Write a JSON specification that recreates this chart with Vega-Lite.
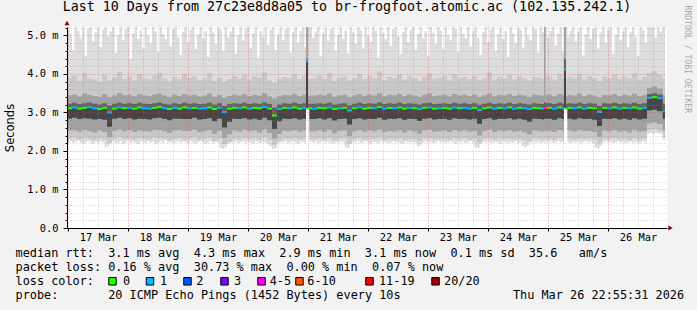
{
  "$schema": "https://vega.github.io/schema/vega-lite/v6.json",
  "width": 600,
  "height": 201,
  "autosize": "none",
  "padding": {"left": 67, "top": 27, "right": 30, "bottom": 82},
  "background": "#f2f2f2",
  "config": {"view": {"stroke": null, "fill": "#ffffff"}},
  "title": {"text": "Last 10 Days from 27c23e8d8a05 to br-frogfoot.atomic.ac (102.135.242.1)", "font": "DejaVu Sans Mono", "fontSize": 13.3, "fontWeight": "normal", "color": "#000000", "anchor": "middle", "frame": "group", "dx": -20, "dy": 23, "offset": 4, "baseline": "alphabetic"},
  "datasets": {
    "main": [
      {"t":0,"u":2,"a":2.32,"b":2.53,"c":2.84,"m":3.11,"d":3.23,"e":3.45,"f":3.90,"l":"0"},
      {"t":2,"u":4,"a":2.35,"b":2.54,"c":2.86,"m":3.13,"d":3.25,"e":3.47,"f":3.95,"l":"1"},
      {"t":4,"u":6,"a":2.30,"b":2.50,"c":2.83,"m":3.10,"d":3.22,"e":3.42,"f":3.82,"l":"0"},
      {"t":6,"u":8,"a":2.34,"b":2.55,"c":2.85,"m":3.12,"d":3.24,"e":3.49,"f":4.02,"l":"0"},
      {"t":8,"u":10,"a":2.31,"b":2.51,"c":2.84,"m":3.14,"d":3.26,"e":3.46,"f":3.88,"l":"1"},
      {"t":10,"u":12,"a":2.28,"b":2.48,"c":2.82,"m":3.11,"d":3.23,"e":3.43,"f":3.85,"l":"1"},
      {"t":12,"u":14,"a":2.33,"b":2.53,"c":2.83,"m":3.09,"d":3.21,"e":3.41,"f":3.80,"l":"0"},
      {"t":14,"u":16,"a":2.30,"b":2.49,"c":2.81,"m":3.12,"d":3.24,"e":3.48,"f":3.98,"l":"0"},
      {"t":16,"u":18,"a":2.20,"b":2.36,"c":2.63,"m":3.00,"d":3.18,"e":3.40,"f":3.84,"l":"1"},
      {"t":18,"u":20,"a":2.32,"b":2.52,"c":2.84,"m":3.10,"d":3.23,"e":3.44,"f":3.91,"l":"0"},
      {"t":20,"u":22,"a":2.36,"b":2.56,"c":2.86,"m":3.13,"d":3.25,"e":3.50,"f":4.05,"l":"1"},
      {"t":22,"u":24,"a":2.31,"b":2.51,"c":2.83,"m":3.11,"d":3.23,"e":3.45,"f":3.87,"l":"0"},
      {"t":24,"u":26,"a":2.33,"b":2.54,"c":2.85,"m":3.12,"d":3.24,"e":3.46,"f":3.93,"l":"1"},
      {"t":26,"u":28,"a":2.29,"b":2.49,"c":2.82,"m":3.10,"d":3.22,"e":3.42,"f":3.83,"l":"0"},
      {"t":28,"u":30,"a":2.34,"b":2.53,"c":2.84,"m":3.13,"d":3.25,"e":3.48,"f":3.99,"l":"0"},
      {"t":30,"u":32,"a":2.32,"b":2.52,"c":2.83,"m":3.11,"d":3.23,"e":3.44,"f":3.89,"l":"1"},
      {"t":32,"u":34,"a":2.30,"b":2.50,"c":2.82,"m":3.10,"d":3.22,"e":3.43,"f":3.86,"l":"1"},
      {"t":34,"u":36,"a":2.35,"b":2.55,"c":2.85,"m":3.12,"d":3.24,"e":3.47,"f":3.96,"l":"0"},
      {"t":36,"u":38,"a":2.33,"b":2.54,"c":2.86,"m":3.14,"d":3.26,"e":3.49,"f":4.03,"l":"0"},
      {"t":38,"u":40,"a":2.31,"b":2.51,"c":2.83,"m":3.11,"d":3.23,"e":3.44,"f":3.88,"l":"1"},
      {"t":40,"u":42,"a":2.28,"b":2.47,"c":2.80,"m":3.09,"d":3.21,"e":3.41,"f":3.81,"l":"0"},
      {"t":42,"u":44,"a":2.32,"b":2.53,"c":2.84,"m":3.12,"d":3.24,"e":3.46,"f":3.92,"l":"1"},
      {"t":44,"u":46,"a":2.34,"b":2.54,"c":2.84,"m":3.10,"d":3.22,"e":3.43,"f":3.86,"l":"0"},
      {"t":46,"u":48,"a":2.30,"b":2.51,"c":2.83,"m":3.13,"d":3.25,"e":3.48,"f":4.00,"l":"0"},
      {"t":48,"u":50,"a":2.32,"b":2.52,"c":2.83,"m":3.11,"d":3.23,"e":3.45,"f":3.90,"l":"1"},
      {"t":50,"u":52,"a":2.35,"b":2.55,"c":2.86,"m":3.12,"d":3.24,"e":3.46,"f":3.94,"l":"0"},
      {"t":52,"u":54,"a":2.29,"b":2.49,"c":2.82,"m":3.10,"d":3.22,"e":3.42,"f":3.84,"l":"1"},
      {"t":54,"u":56,"a":2.31,"b":2.51,"c":2.83,"m":3.11,"d":3.23,"e":3.44,"f":3.89,"l":"1"},
      {"t":56,"u":58,"a":2.33,"b":2.54,"c":2.85,"m":3.13,"d":3.25,"e":3.49,"f":4.01,"l":"0"},
      {"t":58,"u":60,"a":2.26,"b":2.45,"c":2.77,"m":3.09,"d":3.21,"e":3.41,"f":3.82,"l":"0"},
      {"t":60,"u":62,"a":2.32,"b":2.52,"c":2.84,"m":3.12,"d":3.24,"e":3.46,"f":3.91,"l":"1"},
      {"t":62,"u":64,"a":2.18,"b":2.34,"c":2.61,"m":3.01,"d":3.17,"e":3.38,"f":3.80,"l":"1"},
      {"t":64,"u":66,"a":2.23,"b":2.43,"c":2.76,"m":3.10,"d":3.22,"e":3.43,"f":3.87,"l":"0"},
      {"t":66,"u":68,"a":2.32,"b":2.53,"c":2.84,"m":3.12,"d":3.24,"e":3.47,"f":3.95,"l":"0"},
      {"t":68,"u":70,"a":2.30,"b":2.50,"c":2.83,"m":3.11,"d":3.23,"e":3.44,"f":3.88,"l":"1"},
      {"t":70,"u":72,"a":2.34,"b":2.55,"c":2.85,"m":3.13,"d":3.25,"e":3.48,"f":3.98,"l":"0"},
      {"t":72,"u":74,"a":2.31,"b":2.51,"c":2.82,"m":3.10,"d":3.22,"e":3.43,"f":3.85,"l":"1"},
      {"t":74,"u":76,"a":2.33,"b":2.53,"c":2.84,"m":3.12,"d":3.24,"e":3.46,"f":3.93,"l":"0"},
      {"t":76,"u":78,"a":2.29,"b":2.48,"c":2.81,"m":3.11,"d":3.23,"e":3.44,"f":3.90,"l":"0"},
      {"t":78,"u":80,"a":2.35,"b":2.56,"c":2.86,"m":3.14,"d":3.26,"e":3.50,"f":4.04,"l":"1"},
      {"t":80,"u":82,"a":2.28,"b":2.47,"c":2.80,"m":3.10,"d":3.22,"e":3.42,"f":3.84,"l":"0"},
      {"t":82,"u":84,"a":2.16,"b":2.32,"c":2.57,"m":2.92,"d":3.12,"e":3.36,"f":3.78,"l":"0"},
      {"t":84,"u":86,"a":2.25,"b":2.44,"c":2.77,"m":3.09,"d":3.21,"e":3.42,"f":3.86,"l":"1"},
      {"t":86,"u":88,"a":2.32,"b":2.52,"c":2.84,"m":3.12,"d":3.24,"e":3.46,"f":3.92,"l":"0"},
      {"t":88,"u":90,"a":2.31,"b":2.51,"c":2.83,"m":3.11,"d":3.23,"e":3.45,"f":3.89,"l":"1"},
      {"t":90,"u":92,"a":2.34,"b":2.54,"c":2.85,"m":3.13,"d":3.25,"e":3.48,"f":3.99,"l":"0"},
      {"t":92,"u":94,"a":2.30,"b":2.50,"c":2.82,"m":3.10,"d":3.22,"e":3.43,"f":3.86,"l":"0"},
      {"t":94,"u":95.6,"a":2.32,"b":2.53,"c":2.84,"m":3.12,"d":3.24,"e":3.47,"f":3.94,"l":"1"},
      {"t":95.6,"u":96.4,"a":3.08,"b":3.10,"c":3.12,"m":4.33,"d":4.38,"e":5.60,"f":5.80,"l":"1"},
      {"t":96.4,"u":97,"a":3.10,"b":3.10,"c":3.10,"m":3.11,"d":3.22,"e":3.42,"f":3.85,"l":"0"},
      {"t":97,"u":98,"a":2.30,"b":2.50,"c":2.83,"m":3.11,"d":3.23,"e":3.44,"f":3.88,"l":"0"},
      {"t":98,"u":100,"a":2.31,"b":2.51,"c":2.83,"m":3.10,"d":3.23,"e":3.44,"f":3.88,"l":"1"},
      {"t":100,"u":102,"a":2.33,"b":2.54,"c":2.85,"m":3.12,"d":3.24,"e":3.47,"f":3.96,"l":"0"},
      {"t":102,"u":104,"a":2.30,"b":2.49,"c":2.82,"m":3.11,"d":3.23,"e":3.44,"f":3.87,"l":"0"},
      {"t":104,"u":106,"a":2.34,"b":2.55,"c":2.85,"m":3.13,"d":3.25,"e":3.49,"f":4.02,"l":"1"},
      {"t":106,"u":108,"a":2.27,"b":2.46,"c":2.79,"m":3.09,"d":3.21,"e":3.41,"f":3.82,"l":"0"},
      {"t":108,"u":110,"a":2.32,"b":2.52,"c":2.83,"m":3.11,"d":3.23,"e":3.45,"f":3.90,"l":"1"},
      {"t":110,"u":112,"a":2.33,"b":2.53,"c":2.84,"m":3.12,"d":3.24,"e":3.46,"f":3.93,"l":"0"},
      {"t":112,"u":114,"a":2.21,"b":2.38,"c":2.69,"m":3.05,"d":3.19,"e":3.40,"f":3.83,"l":"1"},
      {"t":114,"u":116,"a":2.31,"b":2.51,"c":2.83,"m":3.11,"d":3.23,"e":3.45,"f":3.89,"l":"0"},
      {"t":116,"u":118,"a":2.34,"b":2.54,"c":2.85,"m":3.13,"d":3.25,"e":3.48,"f":3.99,"l":"1"},
      {"t":118,"u":120,"a":2.30,"b":2.50,"c":2.82,"m":3.10,"d":3.22,"e":3.43,"f":3.86,"l":"0"},
      {"t":120,"u":122,"a":2.32,"b":2.53,"c":2.84,"m":3.12,"d":3.24,"e":3.47,"f":3.95,"l":"0"},
      {"t":122,"u":124,"a":2.31,"b":2.51,"c":2.83,"m":3.11,"d":3.23,"e":3.44,"f":3.88,"l":"1"},
      {"t":124,"u":126,"a":2.35,"b":2.56,"c":2.86,"m":3.14,"d":3.26,"e":3.50,"f":4.06,"l":"0"},
      {"t":126,"u":128,"a":2.29,"b":2.49,"c":2.81,"m":3.10,"d":3.22,"e":3.42,"f":3.84,"l":"1"},
      {"t":128,"u":130,"a":2.32,"b":2.52,"c":2.84,"m":3.12,"d":3.24,"e":3.46,"f":3.92,"l":"0"},
      {"t":130,"u":132,"a":2.30,"b":2.50,"c":2.83,"m":3.11,"d":3.23,"e":3.45,"f":3.89,"l":"1"},
      {"t":132,"u":134,"a":2.33,"b":2.54,"c":2.85,"m":3.13,"d":3.25,"e":3.48,"f":3.98,"l":"0"},
      {"t":134,"u":136,"a":2.28,"b":2.48,"c":2.81,"m":3.10,"d":3.22,"e":3.43,"f":3.85,"l":"0"},
      {"t":136,"u":138,"a":2.32,"b":2.53,"c":2.84,"m":3.12,"d":3.24,"e":3.47,"f":3.94,"l":"1"},
      {"t":138,"u":140,"a":2.31,"b":2.51,"c":2.83,"m":3.11,"d":3.23,"e":3.44,"f":3.88,"l":"0"},
      {"t":140,"u":142,"a":2.26,"b":2.45,"c":2.78,"m":3.09,"d":3.21,"e":3.41,"f":3.82,"l":"1"},
      {"t":142,"u":144,"a":2.33,"b":2.53,"c":2.84,"m":3.12,"d":3.24,"e":3.46,"f":3.93,"l":"0"},
      {"t":144,"u":146,"a":2.34,"b":2.55,"c":2.85,"m":3.13,"d":3.25,"e":3.49,"f":4.01,"l":"1"},
      {"t":146,"u":148,"a":2.30,"b":2.50,"c":2.82,"m":3.10,"d":3.22,"e":3.43,"f":3.86,"l":"0"},
      {"t":148,"u":150,"a":2.31,"b":2.51,"c":2.83,"m":3.11,"d":3.23,"e":3.45,"f":3.90,"l":"1"},
      {"t":150,"u":152,"a":2.32,"b":2.53,"c":2.84,"m":3.12,"d":3.24,"e":3.47,"f":3.95,"l":"0"},
      {"t":152,"u":154,"a":2.29,"b":2.49,"c":2.81,"m":3.10,"d":3.22,"e":3.42,"f":3.84,"l":"0"},
      {"t":154,"u":156,"a":2.34,"b":2.54,"c":2.85,"m":3.13,"d":3.25,"e":3.48,"f":3.99,"l":"1"},
      {"t":156,"u":158,"a":2.31,"b":2.51,"c":2.83,"m":3.11,"d":3.23,"e":3.44,"f":3.88,"l":"0"},
      {"t":158,"u":160,"a":2.33,"b":2.53,"c":2.84,"m":3.12,"d":3.24,"e":3.46,"f":3.92,"l":"1"},
      {"t":160,"u":162,"a":2.30,"b":2.50,"c":2.82,"m":3.10,"d":3.22,"e":3.43,"f":3.86,"l":"1"},
      {"t":162,"u":164,"a":2.32,"b":2.52,"c":2.84,"m":3.12,"d":3.24,"e":3.47,"f":3.94,"l":"0"},
      {"t":164,"u":166,"a":2.22,"b":2.40,"c":2.71,"m":3.06,"d":3.20,"e":3.41,"f":3.84,"l":"1"},
      {"t":166,"u":168,"a":2.31,"b":2.51,"c":2.83,"m":3.11,"d":3.23,"e":3.45,"f":3.89,"l":"0"},
      {"t":168,"u":170,"a":2.34,"b":2.55,"c":2.85,"m":3.13,"d":3.25,"e":3.49,"f":4.03,"l":"0"},
      {"t":170,"u":172,"a":2.29,"b":2.49,"c":2.81,"m":3.10,"d":3.22,"e":3.42,"f":3.85,"l":"1"},
      {"t":172,"u":174,"a":2.32,"b":2.53,"c":2.84,"m":3.12,"d":3.24,"e":3.46,"f":3.93,"l":"0"},
      {"t":174,"u":176,"a":2.31,"b":2.51,"c":2.83,"m":3.11,"d":3.23,"e":3.44,"f":3.88,"l":"1"},
      {"t":176,"u":178,"a":2.33,"b":2.54,"c":2.85,"m":3.13,"d":3.25,"e":3.48,"f":3.97,"l":"0"},
      {"t":178,"u":180,"a":2.30,"b":2.50,"c":2.82,"m":3.10,"d":3.22,"e":3.43,"f":3.86,"l":"1"},
      {"t":180,"u":182,"a":2.32,"b":2.52,"c":2.84,"m":3.12,"d":3.24,"e":3.47,"f":3.94,"l":"0"},
      {"t":182,"u":184,"a":2.28,"b":2.48,"c":2.81,"m":3.11,"d":3.23,"e":3.44,"f":3.89,"l":"1"},
      {"t":184,"u":186,"a":2.24,"b":2.43,"c":2.76,"m":3.09,"d":3.21,"e":3.41,"f":3.83,"l":"1"},
      {"t":186,"u":188,"a":2.33,"b":2.53,"c":2.84,"m":3.12,"d":3.24,"e":3.46,"f":3.92,"l":"0"},
      {"t":188,"u":190,"a":2.31,"b":2.51,"c":2.83,"m":3.11,"d":3.23,"e":3.45,"f":3.90,"l":"0"},
      {"t":190,"u":190.8,"a":2.30,"b":2.50,"c":2.82,"m":3.10,"d":3.22,"e":3.43,"f":3.87,"l":"1"},
      {"t":190.8,"u":191.4,"a":2.32,"b":2.52,"c":2.84,"m":3.12,"d":3.27,"e":5.60,"f":5.80,"l":"4-5"},
      {"t":191.4,"u":192,"a":2.30,"b":2.50,"c":2.83,"m":3.11,"d":3.24,"e":3.46,"f":3.95,"l":"6-10"},
      {"t":192,"u":194,"a":2.32,"b":2.52,"c":2.84,"m":3.12,"d":3.24,"e":3.47,"f":3.93,"l":"0"},
      {"t":194,"u":196,"a":2.29,"b":2.49,"c":2.81,"m":3.10,"d":3.22,"e":3.42,"f":3.85,"l":"1"},
      {"t":196,"u":198,"a":2.34,"b":2.54,"c":2.85,"m":3.13,"d":3.25,"e":3.48,"f":3.99,"l":"0"},
      {"t":198,"u":198.8,"a":2.31,"b":2.51,"c":2.83,"m":3.11,"d":3.23,"e":3.44,"f":3.88,"l":"1"},
      {"t":198.8,"u":199.6,"a":3.08,"b":3.10,"c":3.12,"m":4.12,"d":4.38,"e":5.60,"f":5.80,"l":"1"},
      {"t":199.6,"u":200.2,"a":3.10,"b":3.10,"c":3.10,"m":3.10,"d":3.22,"e":3.43,"f":3.86,"l":"0"},
      {"t":200.2,"u":202,"a":2.32,"b":2.53,"c":2.84,"m":3.12,"d":3.24,"e":3.46,"f":3.93,"l":"0"},
      {"t":202,"u":204,"a":2.30,"b":2.50,"c":2.82,"m":3.11,"d":3.23,"e":3.44,"f":3.88,"l":"1"},
      {"t":204,"u":206,"a":2.33,"b":2.54,"c":2.85,"m":3.13,"d":3.25,"e":3.49,"f":4.00,"l":"0"},
      {"t":206,"u":208,"a":2.31,"b":2.51,"c":2.83,"m":3.10,"d":3.22,"e":3.43,"f":3.86,"l":"1"},
      {"t":208,"u":210,"a":2.32,"b":2.52,"c":2.84,"m":3.12,"d":3.24,"e":3.47,"f":3.94,"l":"0"},
      {"t":210,"u":212,"a":2.29,"b":2.49,"c":2.81,"m":3.11,"d":3.23,"e":3.44,"f":3.89,"l":"0"},
      {"t":212,"u":214,"a":2.20,"b":2.37,"c":2.65,"m":3.01,"d":3.17,"e":3.39,"f":3.82,"l":"1"},
      {"t":214,"u":216,"a":2.32,"b":2.53,"c":2.84,"m":3.12,"d":3.24,"e":3.46,"f":3.93,"l":"0"},
      {"t":216,"u":218,"a":2.31,"b":2.51,"c":2.83,"m":3.11,"d":3.23,"e":3.45,"f":3.90,"l":"1"},
      {"t":218,"u":220,"a":2.34,"b":2.54,"c":2.85,"m":3.13,"d":3.25,"e":3.48,"f":3.98,"l":"0"},
      {"t":220,"u":222,"a":2.30,"b":2.50,"c":2.82,"m":3.10,"d":3.22,"e":3.43,"f":3.86,"l":"1"},
      {"t":222,"u":224,"a":2.32,"b":2.52,"c":2.84,"m":3.12,"d":3.24,"e":3.47,"f":3.94,"l":"0"},
      {"t":224,"u":226,"a":2.28,"b":2.48,"c":2.81,"m":3.11,"d":3.23,"e":3.44,"f":3.88,"l":"1"},
      {"t":226,"u":228,"a":2.33,"b":2.54,"c":2.85,"m":3.13,"d":3.25,"e":3.49,"f":4.01,"l":"0"},
      {"t":228,"u":230,"a":2.30,"b":2.50,"c":2.82,"m":3.10,"d":3.22,"e":3.43,"f":3.85,"l":"0"},
      {"t":230,"u":232,"a":2.32,"b":2.52,"c":2.84,"m":3.12,"d":3.24,"e":3.46,"f":3.92,"l":"1"},
      {"t":232,"u":234,"a":2.55,"b":2.72,"c":3.05,"m":3.38,"d":3.48,"e":3.64,"f":4.02,"l":"1"},
      {"t":234,"u":236,"a":2.57,"b":2.74,"c":3.07,"m":3.40,"d":3.50,"e":3.68,"f":4.08,"l":"0"},
      {"t":236,"u":238.3,"a":2.53,"b":2.70,"c":3.03,"m":3.37,"d":3.47,"e":3.62,"f":3.98,"l":"1"},
      {"t":238.3,"u":239.2,"a":2.35,"b":2.53,"c":2.84,"m":3.03,"d":3.22,"e":3.44,"f":3.88,"l":"1"},
      {"t":239.2,"u":239.2,"a":2.35,"b":2.53,"c":2.84,"m":3.03,"d":3.22,"e":3.44,"f":3.88,"l":"1"}
    ],
    "env": [
      {"t":0,"lo":2.22,"hi":5.5},{"t":1,"lo":2.25,"hi":5.05},{"t":2,"lo":2.20,"hi":4.62},{"t":3,"lo":2.24,"hi":5.5},{"t":4,"lo":2.27,"hi":5.12},{"t":5,"lo":2.21,"hi":4.95},{"t":6,"lo":2.19,"hi":5.5},{"t":7,"lo":2.23,"hi":4.48},{"t":8,"lo":2.26,"hi":5.18},{"t":9,"lo":2.22,"hi":5.5},
      {"t":10,"lo":2.18,"hi":4.85},{"t":11,"lo":2.24,"hi":5.08},{"t":12,"lo":2.21,"hi":5.5},{"t":13,"lo":2.25,"hi":4.70},{"t":14,"lo":2.23,"hi":5.15},{"t":15,"lo":2.09,"hi":5.5},{"t":16,"lo":2.12,"hi":4.98},{"t":17,"lo":2.24,"hi":5.10},{"t":18,"lo":2.26,"hi":5.5},{"t":19,"lo":2.20,"hi":4.55},
      {"t":20,"lo":2.22,"hi":5.02},{"t":21,"lo":2.25,"hi":5.5},{"t":22,"lo":2.19,"hi":4.88},{"t":23,"lo":2.23,"hi":5.16},{"t":24,"lo":2.27,"hi":5.5},{"t":25,"lo":2.21,"hi":4.40},{"t":26,"lo":2.24,"hi":5.06},{"t":27,"lo":2.22,"hi":5.5},{"t":28,"lo":2.18,"hi":4.92},{"t":29,"lo":2.25,"hi":5.13},
      {"t":30,"lo":2.23,"hi":4.66},{"t":31,"lo":2.20,"hi":5.5},{"t":32,"lo":2.26,"hi":5.00},{"t":33,"lo":2.22,"hi":4.80},{"t":34,"lo":2.24,"hi":5.5},{"t":35,"lo":2.19,"hi":5.11},{"t":36,"lo":2.23,"hi":4.58},{"t":37,"lo":2.25,"hi":5.5},{"t":38,"lo":2.21,"hi":5.04},{"t":39,"lo":2.27,"hi":4.90},
      {"t":40,"lo":2.22,"hi":5.5},{"t":41,"lo":2.24,"hi":4.72},{"t":42,"lo":2.20,"hi":5.17},{"t":43,"lo":2.23,"hi":5.5},{"t":44,"lo":2.26,"hi":4.96},{"t":45,"lo":2.21,"hi":4.50},{"t":46,"lo":2.24,"hi":5.09},{"t":47,"lo":2.22,"hi":5.5},{"t":48,"lo":2.19,"hi":4.84},{"t":49,"lo":2.25,"hi":5.14},
      {"t":50,"lo":2.23,"hi":5.5},{"t":51,"lo":2.20,"hi":4.64},{"t":52,"lo":2.24,"hi":5.03},{"t":53,"lo":2.26,"hi":5.5},{"t":54,"lo":2.22,"hi":4.93},{"t":55,"lo":2.18,"hi":5.12},{"t":56,"lo":2.23,"hi":4.45},{"t":57,"lo":2.25,"hi":5.5},{"t":58,"lo":2.21,"hi":5.07},{"t":59,"lo":2.24,"hi":4.78},
      {"t":60,"lo":2.22,"hi":5.5},{"t":61,"lo":2.08,"hi":5.15},{"t":62,"lo":2.05,"hi":4.60},{"t":63,"lo":2.10,"hi":5.5},{"t":64,"lo":2.19,"hi":4.95},{"t":65,"lo":2.24,"hi":5.10},{"t":66,"lo":2.22,"hi":5.5},{"t":67,"lo":2.25,"hi":4.52},{"t":68,"lo":2.21,"hi":5.01},{"t":69,"lo":2.23,"hi":5.5},
      {"t":70,"lo":2.26,"hi":4.87},{"t":71,"lo":2.20,"hi":5.18},{"t":72,"lo":2.24,"hi":5.5},{"t":73,"lo":2.22,"hi":4.68},{"t":74,"lo":2.19,"hi":5.06},{"t":75,"lo":2.25,"hi":5.5},{"t":76,"lo":2.23,"hi":4.42},{"t":77,"lo":2.21,"hi":5.11},{"t":78,"lo":2.24,"hi":4.97},{"t":79,"lo":2.22,"hi":5.5},
      {"t":80,"lo":2.18,"hi":4.75},{"t":81,"lo":2.12,"hi":5.14},{"t":82,"lo":2.04,"hi":5.5},{"t":83,"lo":2.08,"hi":4.62},{"t":84,"lo":2.20,"hi":5.03},{"t":85,"lo":2.24,"hi":5.5},{"t":86,"lo":2.22,"hi":4.89},{"t":87,"lo":2.25,"hi":5.16},{"t":88,"lo":2.21,"hi":5.5},{"t":89,"lo":2.23,"hi":4.56},
      {"t":90,"lo":2.26,"hi":5.08},{"t":91,"lo":2.22,"hi":5.5},{"t":92,"lo":2.19,"hi":4.82},{"t":93,"lo":2.24,"hi":5.12},{"t":94,"lo":2.23,"hi":5.5},{"t":95,"lo":2.21,"hi":4.70},{"t":95.6,"lo":3.08,"hi":5.5},{"t":96.4,"lo":3.10,"hi":5.2},{"t":97,"lo":2.24,"hi":5.5},{"t":98,"lo":2.22,"hi":4.94},{"t":99,"lo":2.25,"hi":5.10},
      {"t":100,"lo":2.20,"hi":5.5},{"t":101,"lo":2.23,"hi":4.46},{"t":102,"lo":2.26,"hi":5.05},{"t":103,"lo":2.22,"hi":5.5},{"t":104,"lo":2.24,"hi":4.86},{"t":105,"lo":2.21,"hi":5.17},{"t":106,"lo":2.19,"hi":5.5},{"t":107,"lo":2.24,"hi":4.61},{"t":108,"lo":2.22,"hi":5.02},{"t":109,"lo":2.25,"hi":5.5},
      {"t":110,"lo":2.23,"hi":4.91},{"t":111,"lo":2.10,"hi":5.13},{"t":112,"lo":2.07,"hi":4.54},{"t":113,"lo":2.18,"hi":5.5},{"t":114,"lo":2.24,"hi":5.08},{"t":115,"lo":2.22,"hi":4.79},{"t":116,"lo":2.25,"hi":5.5},{"t":117,"lo":2.21,"hi":5.15},{"t":118,"lo":2.23,"hi":4.67},{"t":119,"lo":2.26,"hi":5.5},
      {"t":120,"lo":2.22,"hi":5.00},{"t":121,"lo":2.19,"hi":4.85},{"t":122,"lo":2.24,"hi":5.5},{"t":123,"lo":2.23,"hi":5.12},{"t":124,"lo":2.21,"hi":4.43},{"t":125,"lo":2.25,"hi":5.5},{"t":126,"lo":2.22,"hi":5.06},{"t":127,"lo":2.24,"hi":4.90},{"t":128,"lo":2.20,"hi":5.5},{"t":129,"lo":2.23,"hi":4.73},
      {"t":130,"lo":2.26,"hi":5.16},{"t":131,"lo":2.22,"hi":5.5},{"t":132,"lo":2.24,"hi":4.98},{"t":133,"lo":2.21,"hi":4.51},{"t":134,"lo":2.19,"hi":5.09},{"t":135,"lo":2.25,"hi":5.5},{"t":136,"lo":2.23,"hi":4.83},{"t":137,"lo":2.22,"hi":5.14},{"t":138,"lo":2.24,"hi":5.5},{"t":139,"lo":2.21,"hi":4.63},
      {"t":140,"lo":2.11,"hi":5.04},{"t":141,"lo":2.16,"hi":5.5},{"t":142,"lo":2.23,"hi":4.92},{"t":143,"lo":2.25,"hi":5.11},{"t":144,"lo":2.22,"hi":4.47},{"t":145,"lo":2.24,"hi":5.5},{"t":146,"lo":2.20,"hi":5.07},{"t":147,"lo":2.23,"hi":4.77},{"t":148,"lo":2.26,"hi":5.5},{"t":149,"lo":2.22,"hi":5.13},
      {"t":150,"lo":2.24,"hi":4.65},{"t":151,"lo":2.21,"hi":5.5},{"t":152,"lo":2.23,"hi":5.01},{"t":153,"lo":2.25,"hi":4.88},{"t":154,"lo":2.22,"hi":5.5},{"t":155,"lo":2.19,"hi":5.17},{"t":156,"lo":2.24,"hi":4.57},{"t":157,"lo":2.22,"hi":5.5},{"t":158,"lo":2.25,"hi":5.05},{"t":159,"lo":2.21,"hi":4.93},
      {"t":160,"lo":2.23,"hi":5.5},{"t":161,"lo":2.26,"hi":4.71},{"t":162,"lo":2.22,"hi":5.12},{"t":163,"lo":2.10,"hi":5.5},{"t":164,"lo":2.08,"hi":4.95},{"t":165,"lo":2.18,"hi":4.49},{"t":166,"lo":2.24,"hi":5.08},{"t":167,"lo":2.22,"hi":5.5},{"t":168,"lo":2.25,"hi":4.84},{"t":169,"lo":2.21,"hi":5.15},
      {"t":170,"lo":2.23,"hi":5.5},{"t":171,"lo":2.24,"hi":4.60},{"t":172,"lo":2.22,"hi":5.03},{"t":173,"lo":2.19,"hi":5.5},{"t":174,"lo":2.25,"hi":4.90},{"t":175,"lo":2.23,"hi":5.11},{"t":176,"lo":2.21,"hi":4.44},{"t":177,"lo":2.24,"hi":5.5},{"t":178,"lo":2.22,"hi":5.06},{"t":179,"lo":2.26,"hi":4.80},
      {"t":180,"lo":2.20,"hi":5.5},{"t":181,"lo":2.23,"hi":5.14},{"t":182,"lo":2.12,"hi":4.69},{"t":183,"lo":2.09,"hi":5.5},{"t":184,"lo":2.15,"hi":5.00},{"t":185,"lo":2.23,"hi":4.87},{"t":186,"lo":2.25,"hi":5.5},{"t":187,"lo":2.22,"hi":5.16},{"t":188,"lo":2.24,"hi":4.55},{"t":189,"lo":2.21,"hi":5.5},
      {"t":190,"lo":2.23,"hi":5.09},{"t":190.8,"lo":2.22,"hi":5.5},{"t":191.4,"lo":2.24,"hi":5.5},{"t":192,"lo":2.22,"hi":4.94},{"t":193,"lo":2.25,"hi":5.12},{"t":194,"lo":2.21,"hi":5.5},{"t":195,"lo":2.23,"hi":4.74},{"t":196,"lo":2.26,"hi":5.05},{"t":197,"lo":2.22,"hi":5.5},{"t":198,"lo":2.24,"hi":4.58},{"t":198.8,"lo":3.08,"hi":5.5},{"t":199.6,"lo":3.10,"hi":5.5},
      {"t":200.2,"lo":2.23,"hi":4.96},{"t":201,"lo":2.21,"hi":5.13},{"t":202,"lo":2.24,"hi":5.5},{"t":203,"lo":2.22,"hi":4.85},{"t":204,"lo":2.25,"hi":5.10},{"t":205,"lo":2.20,"hi":5.5},{"t":206,"lo":2.23,"hi":4.48},{"t":207,"lo":2.26,"hi":5.04},{"t":208,"lo":2.22,"hi":5.5},{"t":209,"lo":2.24,"hi":4.91},
      {"t":210,"lo":2.21,"hi":5.17},{"t":211,"lo":2.09,"hi":5.5},{"t":212,"lo":2.06,"hi":4.66},{"t":213,"lo":2.14,"hi":5.07},{"t":214,"lo":2.23,"hi":5.5},{"t":215,"lo":2.25,"hi":4.82},{"t":216,"lo":2.22,"hi":5.14},{"t":217,"lo":2.24,"hi":5.5},{"t":218,"lo":2.21,"hi":4.53},{"t":219,"lo":2.23,"hi":5.02},
      {"t":220,"lo":2.26,"hi":5.5},{"t":221,"lo":2.22,"hi":4.89},{"t":222,"lo":2.24,"hi":5.11},{"t":223,"lo":2.21,"hi":5.5},{"t":224,"lo":2.23,"hi":4.70},{"t":225,"lo":2.25,"hi":5.08},{"t":226,"lo":2.22,"hi":5.5},{"t":227,"lo":2.24,"hi":4.97},{"t":228,"lo":2.20,"hi":4.46},{"t":229,"lo":2.23,"hi":5.5},
      {"t":230,"lo":2.26,"hi":5.15},{"t":231,"lo":2.22,"hi":4.81},{"t":232,"lo":2.45,"hi":5.5},{"t":233,"lo":2.47,"hi":5.20},{"t":234,"lo":2.44,"hi":5.5},{"t":235,"lo":2.48,"hi":4.95},{"t":236,"lo":2.46,"hi":5.5},{"t":237,"lo":2.44,"hi":5.10},{"t":238,"lo":2.47,"hi":5.5},{"t":238.3,"lo":2.30,"hi":5.3},{"t":239.2,"lo":2.30,"hi":5.3}
    ],
    "foot": [
      {"r":1,"c":0,"s":"median rtt:"},{"r":1,"c":13,"s":"3.1 ms avg"},{"r":1,"c":25,"s":"4.3 ms max"},{"r":1,"c":37,"s":"2.9 ms min"},{"r":1,"c":49,"s":"3.1 ms now"},{"r":1,"c":61,"s":"0.1 ms sd"},{"r":1,"c":72,"s":"35.6"},{"r":1,"c":79,"s":"am/s"},
      {"r":2,"c":0,"s":"packet loss:"},{"r":2,"c":13,"s":"0.16 % avg"},{"r":2,"c":25,"s":"30.73 % max"},{"r":2,"c":38,"s":"0.00 % min"},{"r":2,"c":50,"s":"0.07 % now"},
      {"r":3,"c":0,"s":"loss color:"},{"r":3,"c":15.08,"s":"0"},{"r":3,"c":20.27,"s":"1"},{"r":3,"c":25.36,"s":"2"},{"r":3,"c":30.64,"s":"3"},{"r":3,"c":35.65,"s":"4-5"},{"r":3,"c":40.93,"s":"6-10"},{"r":3,"c":50.98,"s":"11-19"},{"r":3,"c":60.1,"s":"20/20"},
      {"r":4,"c":0,"s":"probe:"},{"r":4,"c":13,"s":"20 ICMP Echo Pings (1452 Bytes) every 10s"},{"r":4,"c":69.77,"s":"Thu Mar 26 22:55:31 2026"}
    ],
    "box": [
      {"r":3,"c":13.6,"l":"0"},{"r":3,"c":18.86,"l":"1"},{"r":3,"c":24.12,"l":"2"},{"r":3,"c":29.31,"l":"3"},{"r":3,"c":34.5,"l":"4-5"},{"r":3,"c":39.83,"l":"6-10"},{"r":3,"c":49.65,"l":"11-19"},{"r":3,"c":58.91,"l":"20/20"}
    ]
  },
  "layer": [
    {
      "layer": [
        {
          "data": {"name": "env"},
          "mark": {"type": "area", "interpolate": "step-after", "color": "#dddddd", "clip": true},
          "encoding": {
            "x": {"field": "t", "type": "quantitative", "scale": {"domain": [0, 240], "nice": false, "zero": false},
              "axis": {"orient": "top", "values": [6.4,12.4,18.4,30.4,36.4,42.4,54.4,60.4,66.4,78.4,84.4,90.4,102.4,108.4,114.4,126.4,132.4,138.4,150.4,156.4,162.4,174.4,180.4,186.4,198.4,204.4,210.4,222.4,228.4,234.4],
                "grid": true, "gridColor": "#8c8c8c", "gridOpacity": 0.45, "gridDash": [1, 2], "ticks": false, "labels": false, "domain": false, "title": null, "zindex": 1}},
            "y": {"field": "lo", "type": "quantitative", "scale": {"domain": [0, 5.22], "nice": false, "zero": false},
              "axis": {"orient": "left", "values": [0.2,0.4,0.6,0.8,1.2,1.4,1.6,1.8,2.2,2.4,2.6,2.8,3.2,3.4,3.6,3.8,4.2,4.4,4.6,4.8,5.2],
                "grid": true, "gridColor": "#8c8c8c", "gridOpacity": 0.45, "gridDash": [1, 2], "ticks": true, "tickSize": 2, "tickColor": "#000000", "labels": false, "domain": false, "title": null, "zindex": 1}},
            "y2": {"field": "hi"}
          }
        },
        {
          "data": {"name": "main"},
          "mark": {"type": "area", "interpolate": "step-after", "color": "#c8c8c8", "clip": true},
          "encoding": {
            "x": {"field": "t", "type": "quantitative", "scale": {"domain": [0, 240], "nice": false, "zero": false}, "axis": null},
            "y": {"field": "a", "type": "quantitative", "scale": {"domain": [0, 5.22], "nice": false, "zero": false},
              "axis": {"orient": "right", "values": [], "grid": false, "ticks": false, "labels": false, "domain": false,
                "title": "RRDTOOL / TOBI OETIKER", "titleFont": "DejaVu Sans Mono", "titleFontSize": 8.15, "titleFontWeight": "normal", "titleColor": "#a8a8a8",
                "titleAngle": 90, "titleAlign": "left", "titleBaseline": "middle", "titleX": 19, "titleY": -22}},
            "y2": {"field": "f"}
          }
        },
        {
          "data": {"name": "main"},
          "mark": {"type": "area", "interpolate": "step-after", "color": "#a2a2a2", "clip": true},
          "encoding": {
            "x": {"field": "t", "type": "quantitative", "scale": {"domain": [0, 240], "nice": false, "zero": false}, "axis": null},
            "y": {"field": "b", "type": "quantitative", "scale": {"domain": [0, 5.22], "nice": false, "zero": false}, "axis": null},
            "y2": {"field": "e"}
          }
        },
        {
          "data": {"name": "main"},
          "mark": {"type": "area", "interpolate": "step-after", "color": "#464646", "clip": true},
          "encoding": {
            "x": {"field": "t", "type": "quantitative", "scale": {"domain": [0, 240], "nice": false, "zero": false}, "axis": null},
            "y": {"field": "c", "type": "quantitative", "scale": {"domain": [0, 5.22], "nice": false, "zero": false}, "axis": null},
            "y2": {"field": "m"}
          }
        },
        {
          "data": {"name": "main"},
          "mark": {"type": "area", "interpolate": "step-after", "color": "#626262", "clip": true},
          "encoding": {
            "x": {"field": "t", "type": "quantitative", "scale": {"domain": [0, 240], "nice": false, "zero": false}, "axis": null},
            "y": {"field": "m", "type": "quantitative", "scale": {"domain": [0, 5.22], "nice": false, "zero": false}, "axis": null},
            "y2": {"field": "d"}
          }
        },
        {
          "data": {"name": "main"},
          "mark": {"type": "rule", "strokeWidth": 2, "clip": true},
          "encoding": {
            "x": {"field": "t", "type": "quantitative", "scale": {"domain": [0, 240], "nice": false, "zero": false},
              "axis": {"orient": "bottom", "values": [0.4,24.4,48.4,72.4,96.4,120.4,144.4,168.4,192.4,216.4],
                "labelExpr": "(16 + round((datum.value + 23.6) / 24)) + ' Mar'", "labelOffset": 30, "labelFont": "DejaVu Sans Mono", "labelFontSize": 10.37, "labelColor": "#000000",
                "labelPadding": 1.5, "labelOverlap": false, "labelFlush": false, "labelBound": false,
                "grid": true, "gridColor": "#e03c3c", "gridOpacity": 0.5, "gridDash": [1, 2],
                "ticks": true, "tickSize": 3, "tickColor": "#000000", "domain": true, "domainColor": "#000000", "domainWidth": 1, "title": null, "zindex": 1}},
            "x2": {"field": "u"},
            "y": {"field": "m", "type": "quantitative", "scale": {"domain": [0, 5.22], "nice": false, "zero": false},
              "axis": {"orient": "left", "values": [0, 1, 2, 3, 4, 5],
                "labelExpr": "datum.value == 0 ? '0.0' : format(datum.value, '.1f') + ' m'", "labelFont": "DejaVu Sans Mono", "labelFontSize": 10.37, "labelColor": "#000000", "labelPadding": 5,
                "grid": true, "gridColor": "#e03c3c", "gridOpacity": 0.5, "gridDash": [1, 2],
                "ticks": true, "tickSize": 4, "tickColor": "#000000", "domain": true, "domainColor": "#000000", "domainWidth": 1,
                "title": "Seconds", "titleFont": "DejaVu Sans", "titleFontSize": 11.5, "titleFontWeight": "normal", "titleColor": "#000000",
                "titleAngle": 270, "titleAlign": "center", "titleBaseline": "middle", "titleX": -56.5, "titleY": 100.5, "zindex": 1}},
            "color": {"field": "l", "type": "nominal", "scale": {"domain": ["0","1","2","3","4-5","6-10","11-19","20/20"], "range": ["#26ff00","#00b8ff","#0059ff","#7e00ff","#ff00ff","#ff5500","#ff0000","#a10000"]}, "legend": null}
          }
        },
        {
          "data": {"values": [{}]},
          "mark": {"type": "point", "shape": "triangle-up", "filled": true, "color": "#8b0000", "size": 25, "opacity": 1},
          "encoding": {
            "x": {"datum": 0, "type": "quantitative", "scale": {"domain": [0, 240], "nice": false, "zero": false}, "axis": null},
            "y": {"datum": 5.324, "type": "quantitative", "scale": {"domain": [0, 5.22], "nice": false, "zero": false}, "axis": null}
          }
        },
        {
          "data": {"values": [{}]},
          "mark": {"type": "point", "shape": "triangle-right", "filled": true, "color": "#8b0000", "size": 25, "opacity": 1},
          "encoding": {
            "x": {"datum": 241.4, "type": "quantitative", "scale": {"domain": [0, 240], "nice": false, "zero": false}, "axis": null},
            "y": {"datum": 0, "type": "quantitative", "scale": {"domain": [0, 5.22], "nice": false, "zero": false}, "axis": null}
          }
        }
      ],
      "resolve": {"axis": {"x": "independent", "y": "independent"}}
    },
    {
      "layer": [
        {
          "data": {"name": "foot"},
          "mark": {"type": "text", "font": "DejaVu Sans Mono", "fontSize": 11.85, "align": "left", "baseline": "alphabetic", "color": "#000000"},
          "encoding": {
            "x": {"field": "c", "type": "quantitative", "scale": {"domain": [7.223, 91.3745], "nice": false, "zero": false}, "axis": null},
            "y": {"field": "r", "type": "quantitative", "scale": {"domain": [-15.464, -1.107], "reverse": true, "nice": false, "zero": false}, "axis": null},
            "text": {"field": "s"}
          }
        },
        {
          "data": {"name": "box"},
          "mark": {"type": "point", "shape": "square", "filled": true, "size": 56, "stroke": "#000000", "strokeWidth": 1, "opacity": 1, "yOffset": -4.2},
          "encoding": {
            "x": {"field": "c", "type": "quantitative", "scale": {"domain": [7.223, 91.3745], "nice": false, "zero": false}, "axis": null},
            "y": {"field": "r", "type": "quantitative", "scale": {"domain": [-15.464, -1.107], "reverse": true, "nice": false, "zero": false}, "axis": null},
            "color": {"field": "l", "type": "nominal", "scale": {"domain": ["0","1","2","3","4-5","6-10","11-19","20/20"], "range": ["#26ff00","#00b8ff","#0059ff","#7e00ff","#ff00ff","#ff5500","#ff0000","#a10000"]}, "legend": null}
          }
        }
      ]
    }
  ],
  "resolve": {"scale": {"x": "independent", "y": "independent"}}
}
